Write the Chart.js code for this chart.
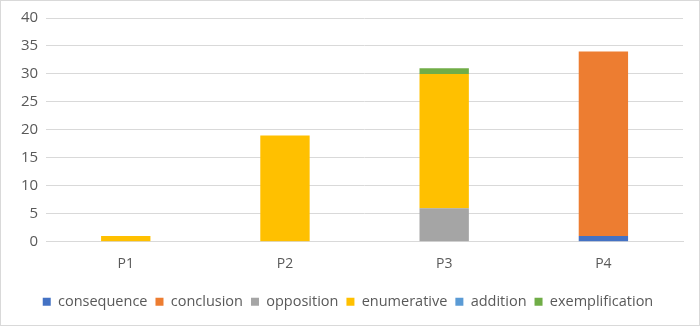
<!DOCTYPE html>
<html>
<head>
<meta charset="utf-8">
<script src="https://cdn.jsdelivr.net/npm/chart.js@4.4.1/dist/chart.umd.min.js"></script>
<style>
  html, body { margin: 0; padding: 0; background: #fff; }
  .wrap {
    position: relative;
    width: 700px;
    height: 326px;
    box-sizing: border-box;
    border: 1px solid #d9d9d9;
  }
</style>
</head>
<body>
<div class="wrap">
  <canvas id="chart"></canvas>
</div>
<script>
// 段落类别
const categories = ['P1', 'P2', 'P3', 'P4'];

// 各连接词类型的数量
const consequence = [0, 0, 0, 1];
const conclusion = [0, 0, 0, 33];
const opposition = [0, 0, 6, 0];
const enumerative = [1, 19, 24, 0];
const addition = [0, 0, 0, 0];
const exemplification = [0, 0, 1, 0];

// Office 默认配色
const colors = {
    consequence: '#4472C4',
    conclusion: '#ED7D31',
    opposition: '#A5A5A5',
    enumerative: '#FFC000',
    addition: '#5B9BD5',
    exemplification: '#70AD47'
};

const fontFamily = "'Open Sans', 'Noto Sans', sans-serif";

function makeSet(label, data, color) {
    return {
        label: label,
        data: data,
        backgroundColor: color,
        borderWidth: 0,
        barPercentage: 0.62,
        categoryPercentage: 0.5
    };
}

const ctx = document.getElementById('chart').getContext('2d');
new Chart(ctx, {
    type: 'bar',
    data: {
        labels: categories,
        datasets: [
            makeSet('consequence', consequence, colors.consequence),
            makeSet('conclusion', conclusion, colors.conclusion),
            makeSet('opposition', opposition, colors.opposition),
            makeSet('enumerative', enumerative, colors.enumerative),
            makeSet('addition', addition, colors.addition),
            makeSet('exemplification', exemplification, colors.exemplification)
        ]
    },
    options: {
        responsive: true,
        maintainAspectRatio: false,
        animation: false,
        layout: {
            padding: { top: 16, left: 12, right: 16, bottom: 6 }
        },
        plugins: {
            legend: {
                position: 'bottom',
                labels: {
                    boxWidth: 8,
                    boxHeight: 8,
                    padding: 8,
                    color: '#595959',
                    font: { family: fontFamily, size: 14.5 }
                }
            },
            tooltip: { enabled: false }
        },
        scales: {
            x: {
                stacked: true,
                grid: { display: false, drawTicks: false },
                border: { display: true, color: '#d9d9d9', width: 1 },
                ticks: {
                    color: '#595959',
                    padding: 14,
                    font: { family: fontFamily, size: 14 }
                }
            },
            y: {
                stacked: true,
                min: 0,
                max: 40,
                ticks: {
                    stepSize: 5,
                    color: '#595959',
                    padding: 8,
                    font: { family: fontFamily, size: 15 }
                },
                grid: { color: '#d9d9d9', drawTicks: false },
                border: { display: false }
            }
        }
    }
});
</script>
</body>
</html>
